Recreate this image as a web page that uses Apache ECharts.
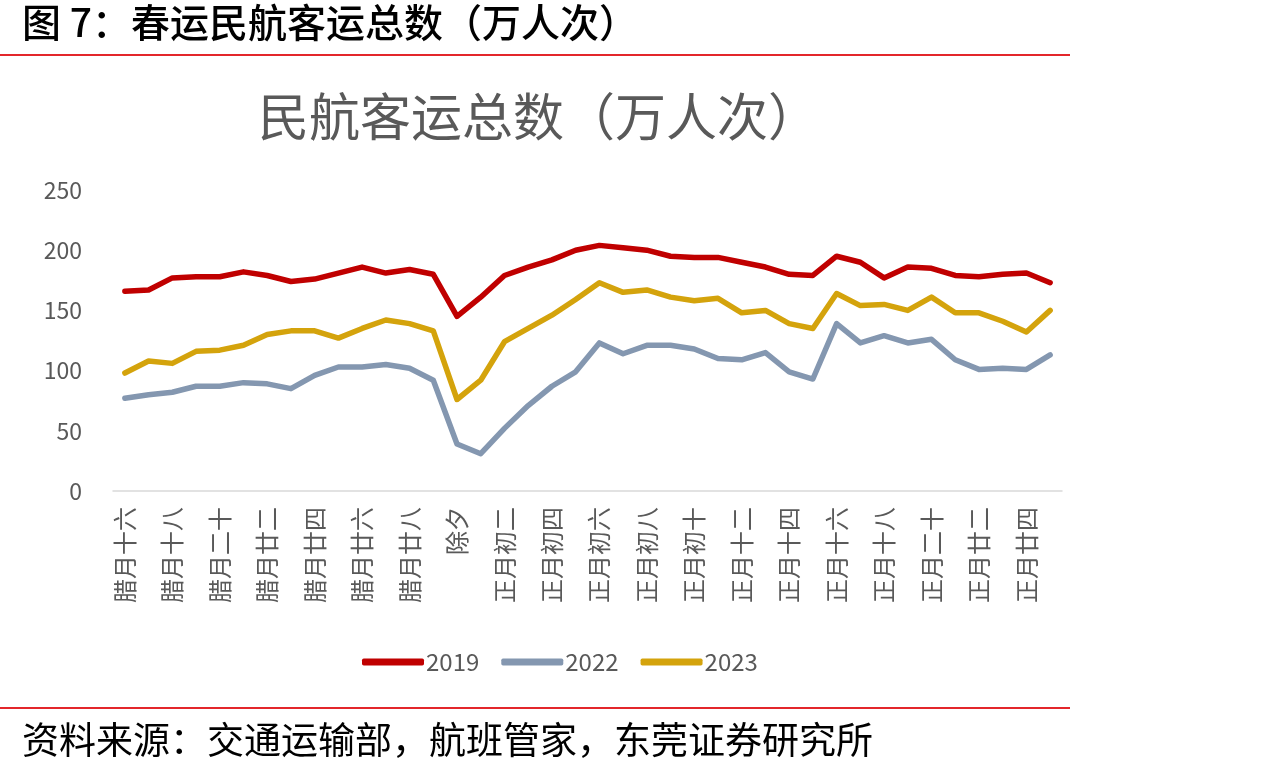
<!DOCTYPE html>
<html>
<head>
<meta charset="utf-8">
<script src="https://cdn.jsdelivr.net/npm/echarts@6/dist/echarts.min.js"></script>
<style>
  html, body { margin: 0; padding: 0; background: #fff; }
  #chart { width: 1284px; height: 775px; }
</style>
</head>
<body>
<div id="chart"></div>
<script>
  const days = ['腊月十六', '腊月十七', '腊月十八', '腊月十九', '腊月二十', '腊月廿一', '腊月廿二', '腊月廿三',
    '腊月廿四', '腊月廿五', '腊月廿六', '腊月廿七', '腊月廿八', '腊月廿九', '除夕',
    '正月初一', '正月初二', '正月初三', '正月初四', '正月初五', '正月初六', '正月初七', '正月初八', '正月初九', '正月初十',
    '正月十一', '正月十二', '正月十三', '正月十四', '正月十五', '正月十六', '正月十七', '正月十八', '正月十九', '正月二十',
    '正月廿一', '正月廿二', '正月廿三', '正月廿四', '正月廿五'];
  const v2019 = [166, 167, 177, 178, 178, 182, 179, 174, 176, 181, 186, 181, 184, 180, 145,
    161, 179, 186, 192, 200, 204, 202, 200, 195, 194, 194, 190, 186, 180, 179,
    195, 190, 177, 186, 185, 179, 178, 180, 181, 173];
  const v2022 = [77, 80, 82, 87, 87, 90, 89, 85, 96, 103, 103, 105, 102, 92, 39,
    31, 52, 71, 87, 99, 123, 114, 121, 121, 118, 110, 109, 115, 99, 93,
    139, 123, 129, 123, 126, 109, 101, 102, 101, 113];
  const v2023 = [98, 108, 106, 116, 117, 121, 130, 133, 133, 127, 135, 142, 139, 133, 76,
    92, 124, 135, 146, 159, 173, 165, 167, 161, 158, 160, 148, 150, 139, 135,
    164, 154, 155, 150, 161, 148, 148, 141, 132, 150];
  const yTicks = [0, 50, 100, 150, 200, 250];

  const font = '"Noto Sans CJK SC", "Noto Sans", sans-serif';
  const grey = '#595959';

  function line(name, data, color) {
    return {
      name: name,
      type: 'line',
      data: data,
      symbol: 'none',
      color: color,
      lineStyle: { width: 5.5, color: color, cap: 'round', join: 'round' }
    };
  }

  const chart = echarts.init(document.getElementById('chart'));
  chart.setOption({
    backgroundColor: '#fff',
    animation: false,
    textStyle: { fontFamily: font },
    title: {
      text: '民航客运总数（万人次）',
      left: 253,
      top: 86,
      textStyle: { fontSize: 51, fontWeight: 'normal', color: grey, fontFamily: font }
    },
    graphic: [
      { type: 'text', left: 22, top: 3, style: { text: '图 7：春运民航客运总数（万人次）', font: '500 39px ' + font, fill: '#000' } },
      { type: 'rect', shape: { x: 0, y: 54, width: 1070, height: 2 }, style: { fill: '#E3262B' } },
      { type: 'rect', shape: { x: 0, y: 707, width: 1070, height: 2 }, style: { fill: '#E3262B' } },
      { type: 'text', left: 22, top: 721, style: { text: '资料来源：交通运输部，航班管家，东莞证券研究所', font: '37px ' + font, fill: '#000' } }
    ],
    grid: { left: 113, right: 222, top: 190, bottom: 284 },
    legend: {
      data: ['2019', '2022', '2023'],
      left: 357,
      top: 645,
      icon: 'roundRect',
      itemWidth: 62,
      itemHeight: 7,
      itemGap: 22,
      textStyle: { fontSize: 24, color: grey, fontFamily: font, padding: [0, 0, 0, -3] }
    },
    xAxis: {
      type: 'category',
      data: days,
      boundaryGap: true,
      axisLine: { lineStyle: { color: '#D9D9D9', width: 1.5 } },
      axisTick: { show: false },
      axisLabel: { interval: 1, rotate: 90, margin: 16, fontSize: 24, color: grey, fontFamily: font }
    },
    yAxis: {
      type: 'value',
      min: yTicks[0],
      max: yTicks[yTicks.length - 1],
      interval: 50,
      axisLine: { show: false },
      axisTick: { show: false },
      splitLine: { show: false },
      axisLabel: { margin: 31, fontSize: 23, color: grey, fontFamily: font }
    },
    series: [
      line('2019', v2019, '#C00000'),
      line('2022', v2022, '#8497B0'),
      line('2023', v2023, '#D4A30C')
    ]
  });
</script>
</body>
</html>
